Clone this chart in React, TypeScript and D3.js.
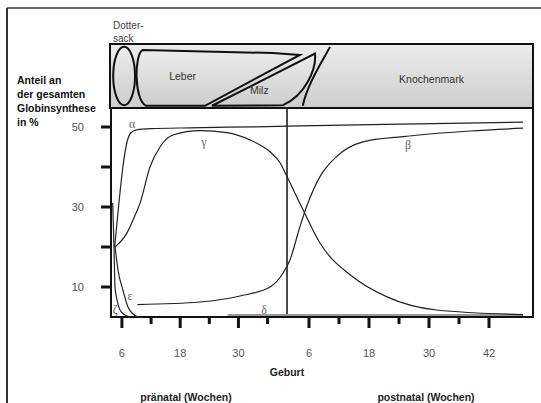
import React from "react";
import * as d3 from "d3";

// ---- data ----
const BIRTH = 40; // weeks since conception
const preTicks = [6, 12, 18, 24, 30, 36];
const postTicks = [6, 12, 18, 24, 30, 36, 42];
const preLabeled = [6, 18, 30];
const postLabeled = [6, 18, 30, 42];
const yTicks = [10, 20, 30, 40, 50];
const yLabeled = [10, 30, 50];

// [weeks since conception (postnatal = 40 + w), % of globin synthesis]
const alpha: [number, number][] = [[4.5, 20], [5.3, 30], [6.2, 40], [7.0, 46], [7.8, 48.5], [9, 49.3], [12, 49.6], [20, 49.8], [36, 50.1], [40, 50.2], [64, 50.7], [88.8, 51.2]];
const gamma: [number, number][] = [[4.57, 20], [6.98, 23.4], [8.28, 26.75], [9.72, 30.9], [11.78, 40], [13.84, 45], [16.5, 48], [22.1, 49.1], [27.6, 48.6], [32.4, 46.75], [36.5, 43.8], [38.6, 41], [40, 37.6], [44.4, 29.25], [48.2, 21], [54.8, 12.5], [61.5, 7.6], [71.5, 4.25], [88.8, 3.1]];
const beta: [number, number][] = [[9.2, 5.6], [22.1, 6.25], [30.3, 7.75], [36.5, 10], [39.2, 13.5], [40.8, 16.75], [43.5, 25], [45.3, 30], [48.2, 37.6], [51.5, 42.6], [56.8, 46.3], [64.8, 47.6], [78.2, 49], [88.8, 49.7]];
const epsilon: [number, number][] = [[4.6, 20], [5.19, 14.25], [6.2, 9.25], [7.25, 5], [8.28, 3.25], [9.31, 2.5]];
const zeta: [number, number][] = [[4.1, 31], [4.37, 20], [4.57, 10], [4.99, 6.75], [5.6, 4.25], [6.63, 3], [7.66, 2.5]];
const delta: [number, number][] = [[27.8, 3], [40, 3], [88.8, 3]];

const curveLabels: { text: string; at: [number, number] }[] = [
  { text: "α", at: [8.1, 50.75] },
  { text: "γ", at: [22.9, 46.25] },
  { text: "β", at: [65.8, 45.5] },
  { text: "ε", at: [7.66, 7.75] },
  { text: "ζ", at: [4.6, 4.5] },
  { text: "δ", at: [35.3, 4.25] },
];

// organs of haematopoiesis in the top band: [weeks, band fraction 0=top..1=bottom]
const dottersack: [number, number] = [4.2, 8.7];
const leber: [number, number][] = [[10.96, 0.98], [8.49, 0.89], [8.49, 0.15], [10.3, 0.08], [37.1, 0.13], [43.5, 0.16], [23.1, 0.98]];
const milz: [number, number][] = [[24.55, 0.98], [47.2, 0.14], [47.5, 0.4], [44.9, 0.81], [39.18, 0.97]];
const knochenmark: [number, number][] = [[50.2, 0.03], [48.6, 0.27], [45.4, 0.65], [44.3, 0.98]];
const organLabels: { text: string; at: [number, number] }[] = [
  { text: "Leber", at: [18.5, 0.5] },
  { text: "Milz", at: [34.3, 0.73] },
  { text: "Knochenmark", at: [70.5, 0.56] },
];
const yTitle = ["Anteil an", "der gesamten", "Globinsynthese", "in %"];

export default function App() {
  const x = d3.scaleLinear().domain([3.75, BIRTH, 46, 82, 90.8]).range([111, 287, 309, 489, 533]);
  const y = d3.scaleLinear().domain([2.5, 54.75]).range([317, 108]);
  const yb = d3.scaleLinear().domain([0, 1]).range([45, 107]);
  const left = 111, right = 533, top = 108, bottom = 317;

  const line = d3
    .line<[number, number]>()
    .x((d) => x(d[0]))
    .y((d) => y(d[1]))
    .curve(d3.curveMonotoneX);

  const P = (d: [number, number]) => `${x(d[0])},${yb(d[1])}`;
  const leberPath = `M${P(leber[0])}C${P(leber[1])} ${P(leber[2])} ${P(leber[3])}L${P(leber[4])}L${P(leber[5])}L${P(leber[6])}Z`;
  const milzPath = `M${P(milz[0])}L${P(milz[1])}C${P(milz[2])} ${P(milz[3])} ${P(milz[4])}Z`;
  const kmPath = `M${P(knochenmark[0])}C${P(knochenmark[1])} ${P(knochenmark[2])} ${P(knochenmark[3])}`;

  const sans = "Liberation Sans, Arial, sans-serif";
  const serif = "Liberation Serif, DejaVu Serif, serif";
  const curves = [alpha, gamma, beta, epsilon, zeta];

  return (
    <div style={{ position: "absolute", left: 0, top: 0 }}>
      <svg width={541} height={403} style={{ display: "block", background: "#fff" }}>
        <defs>
          <linearGradient id="bandFill" x1="0" y1="0" x2="0" y2="1">
            <stop offset="0%" stopColor="#ececec" />
            <stop offset="100%" stopColor="#cdcdcd" />
          </linearGradient>
        </defs>
        {/* outer frame */}
        <line x1={7} y1={8} x2={541} y2={8} stroke="#333" strokeWidth={1.5} />
        <line x1={7} y1={8} x2={7} y2={403} stroke="#333" strokeWidth={2} />

        {/* y title */}
        {yTitle.map((t, i) => (
          <text key={t} x={17} y={84 + i * 14} fontFamily={sans} fontSize={10.5} fontWeight="bold" fill="#111">
            {t}
          </text>
        ))}
        <text x={113} y={29} fontFamily={sans} fontSize={10} fill="#444">Dotter-</text>
        <text x={113} y={42} fontFamily={sans} fontSize={10} fill="#444">sack</text>

        {/* band */}
        <rect x={110} y={44} width={right - 110} height={top - 44} fill="url(#bandFill)" stroke="#111" strokeWidth={2} />
        <ellipse
          cx={(x(dottersack[0]) + x(dottersack[1])) / 2}
          cy={yb(0.5)}
          rx={(x(dottersack[1]) - x(dottersack[0])) / 2}
          ry={yb(0.97) - yb(0.5)}
          fill="url(#bandFill)"
          stroke="#111"
          strokeWidth={2}
        />
        <path d={leberPath} fill="url(#bandFill)" stroke="#111" strokeWidth={2} />
        <path d={milzPath} fill="url(#bandFill)" stroke="#111" strokeWidth={2} />
        <path d={kmPath} fill="none" stroke="#111" strokeWidth={2} />
        {organLabels.map((o) => (
          <text key={o.text} x={x(o.at[0])} y={yb(o.at[1])} dy="0.35em" textAnchor="middle" fontFamily={sans} fontSize={10.5} fill="#333">
            {o.text}
          </text>
        ))}

        {/* plot frame */}
        <rect x={left} y={top} width={right - left} height={bottom - top} fill="none" stroke="#111" strokeWidth={2} />
        <line x1={x(BIRTH)} y1={top} x2={x(BIRTH)} y2={bottom} stroke="#111" strokeWidth={1.5} />

        {/* y ticks */}
        {yTicks.map((v) => (
          <line key={v} x1={101} x2={left} y1={y(v)} y2={y(v)} stroke="#111" strokeWidth={3} />
        ))}
        {yLabeled.map((v) => (
          <text key={v} x={84} y={y(v)} dy="0.35em" textAnchor="end" fontFamily={sans} fontSize={11} fill="#555">
            {v}
          </text>
        ))}

        {/* x ticks */}
        {preTicks.map((w) => (
          <line key={"p" + w} x1={x(w)} x2={x(w)} y1={bottom} y2={preLabeled.includes(w) ? 328 : 324} stroke="#111" strokeWidth={3} />
        ))}
        {postTicks.map((w) => (
          <line key={"q" + w} x1={x(BIRTH + w)} x2={x(BIRTH + w)} y1={bottom} y2={postLabeled.includes(w) ? 328 : 324} stroke="#111" strokeWidth={3} />
        ))}
        {preLabeled.map((w) => (
          <text key={"pl" + w} x={x(w)} y={357} textAnchor="middle" fontFamily={sans} fontSize={11} fill="#555">
            {w}
          </text>
        ))}
        {postLabeled.map((w) => (
          <text key={"ql" + w} x={x(BIRTH + w)} y={357} textAnchor="middle" fontFamily={sans} fontSize={11} fill="#555">
            {w}
          </text>
        ))}
        <text x={x(BIRTH)} y={376} textAnchor="middle" fontFamily={sans} fontSize={10.5} fontWeight="bold" fill="#222">Geburt</text>
        <text x={186} y={401} textAnchor="middle" fontFamily={sans} fontSize={10.5} fontWeight="bold" fill="#222">pränatal (Wochen)</text>
        <text x={426} y={401} textAnchor="middle" fontFamily={sans} fontSize={10.5} fontWeight="bold" fill="#222">postnatal (Wochen)</text>

        {/* curves */}
        <path d={line(delta) || ""} fill="none" stroke="#999" strokeWidth={2} />
        {curves.map((c, i) => (
          <path key={i} d={line(c) || ""} fill="none" stroke="#222" strokeWidth={1.2} />
        ))}
        {curveLabels.map((l) => (
          <text key={l.text} x={x(l.at[0])} y={y(l.at[1])} dy="0.35em" textAnchor="middle" fontFamily={serif} fontSize={12} fill="#666">
            {l.text}
          </text>
        ))}
      </svg>
    </div>
  );
}
